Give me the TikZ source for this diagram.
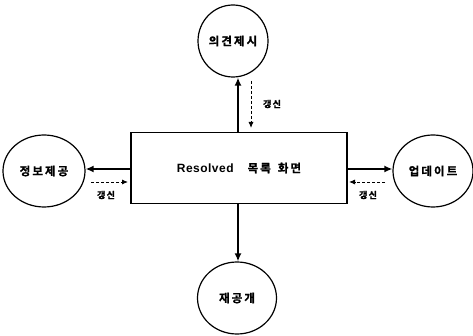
\documentclass[tikz,border=0pt]{standalone}
\usepackage{fontspec}
\setmainfont{Noto Sans CJK KR}[BoldFont={Noto Sans CJK KR Bold}]
\newfontfamily\kr[LetterSpace=18,FakeBold=1.2]{Noto Sans CJK KR Bold}
\newfontfamily\krs[LetterSpace=15,FakeBold=1.2]{Noto Sans CJK KR Bold}
\newfontfamily\lat[LetterSpace=4]{Liberation Sans Bold}
\usetikzlibrary{shapes.geometric,arrows.meta}
\begin{document}
\begin{tikzpicture}[x=1pt,y=-1pt,
  circ/.style={ellipse,draw,line width=1.2pt,minimum width=#1,minimum height=72pt,inner sep=0pt,font=\kr\fontsize{11.5}{13}\selectfont},
  mainbox/.style={draw,line width=1.8pt,minimum width=216pt,minimum height=71pt,inner sep=0pt},
  solidarr/.style={line width=1.6pt,-{Latex[length=8pt,width=7pt]}},
  dasharr/.style={line width=0.9pt,dashed,dash pattern=on 3pt off 2pt,-{Latex[length=6pt,width=5pt]}},
  lbl/.style={font=\krs\fontsize{9}{10}\selectfont,inner sep=0pt}]
\useasboundingbox (0,0) rectangle (473,336);
\node[mainbox] (box) at (239,168) {{\lat\fontsize{12}{14}\selectfont Resolved}\hspace{14pt}{\kr\fontsize{11.5}{13}\selectfont 목록\hspace{7pt}화면}};
\node[circ=70pt] (top) at (233,41) {의견제시};
\node[circ=82pt] (left) at (44,171) {정보제공};
\node[circ=80pt] (right) at (433,171) {업데이트};
\node[circ=79pt] (bot) at (237,298) {재공개};
% solid arrows
\draw[solidarr] (box.north -| 238,0) -- (top.south -| 238,0);
\draw[solidarr] (box.south -| 238,0) -- (bot.north -| 238,0);
\draw[solidarr] (box.west |- 0,169) -- (left.east |- 0,169);
\draw[solidarr] (box.east |- 0,169) -- (right.west |- 0,169);
% dashed update arrows
\coordinate (t1) at (251,81);
\coordinate (t2) at (251,128);
\draw[dasharr] (t1) -- (t2);
\node[lbl] (tl) at (272,104) {갱신};
\coordinate (l1) at (91,182);
\coordinate (l2) at (128,182);
\draw[dasharr] (l1) -- (l2);
\node[lbl] (ll) at (106,195) {갱신};
\coordinate (r1) at (385,182);
\coordinate (r2) at (349,182);
\draw[dasharr] (r1) -- (r2);
\node[lbl] (rl) at (368,195) {갱신};
\end{tikzpicture}
\end{document}
